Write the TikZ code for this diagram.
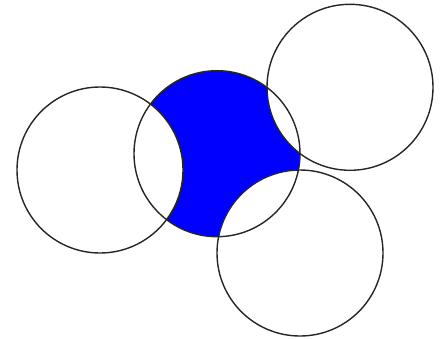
\documentclass[tikz,border=0pt]{standalone}
\usepackage{xcolor}
\usepackage{tikz}
\definecolor{setblue}{HTML}{0000FF}

\begin{document}
\begin{tikzpicture}[
    x=1pt, y=-1pt,
    setcircle/.style={draw=black!85, line width=1.4pt},
    radius=83
]
\useasboundingbox (0,0) rectangle (444,338);
\coordinate (left) at (100,170);
\coordinate (mid) at (217,153.7);
\coordinate (topright) at (350,87.3);
\coordinate (botright) at (300,253);
% shaded part: mid circle without the others
\begin{scope}
    \clip (mid) circle;
    \fill[setblue] (mid) circle;
    \fill[white] (left) circle (83) (topright) circle (83) (botright) circle (83);
\end{scope}
\draw[setcircle] (left) circle;
\draw[setcircle] (mid) circle;
\draw[setcircle] (topright) circle;
\draw[setcircle] (botright) circle;
\end{tikzpicture}
\end{document}
